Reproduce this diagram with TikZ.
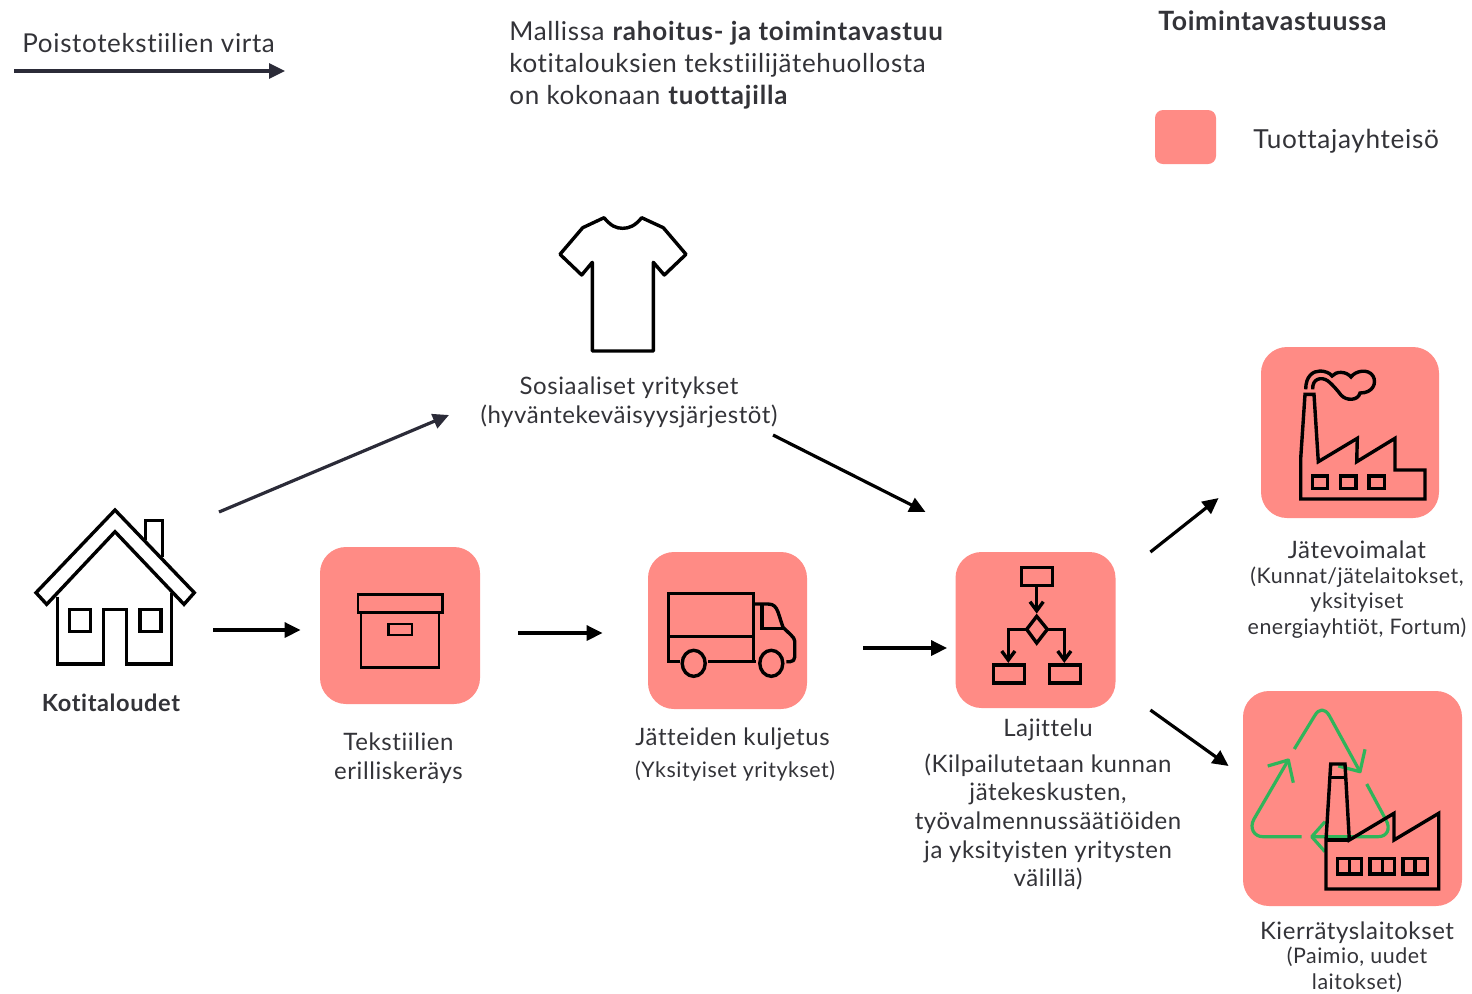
\documentclass[tikz,border=0pt]{standalone}
\usepackage{fontspec}
\setmainfont[LetterSpace=2.5,Ligatures=NoCommon]{Lato}
\usepackage{xcolor}
\usetikzlibrary{arrows.meta,positioning}

\definecolor{tilered}{HTML}{FF8B85}
\definecolor{inkdark}{HTML}{2B2B38}
\definecolor{textdark}{HTML}{333338}
\definecolor{recyclegreen}{HTML}{2FB55A}

\begin{document}
\begin{tikzpicture}[
    x=0.5pt, y=-0.5pt,
    tile/.style={rectangle, fill=tilered, rounded corners=13pt, inner sep=0pt},
    iconspot/.style={rectangle, inner sep=0pt},
    icon/.style={draw=black, line width=1.7pt, miter limit=10},
    thinicon/.style={draw=black, line width=1.2pt},
    cycle/.style={draw=recyclegreen, line width=1.6pt, line join=round},
    flow/.style={-{Triangle[length=8pt,width=7.5pt]}, line width=1.6pt, draw=black},
    darkflow/.style={flow, draw=inkdark},
    caption/.style={align=center, inner sep=0pt, text=textdark, font=\fontsize{12}{14.3}\selectfont},
    subcaption/.style={align=center, inner sep=0pt, text=textdark, font=\fontsize{10.7}{12.8}\selectfont},
    heading/.style={align=left, inner sep=0pt, text=textdark, font=\fontsize{13}{16}\selectfont}
]
    \useasboundingbox (0,0) rectangle (1472,993);

    \node[heading, anchor=west] (virta) at (22,43) {Poistotekstiilien virta};
    \coordinate (virtastart) at (14,71);
    \coordinate (virtaend) at (285,71);
    \draw[darkflow] (virtastart) -- (virtaend);

    \node[heading, anchor=north west] (malli) at (509,21) {Mallissa \textbf{\addfontfeature{LetterSpace=3.2}rahoitus- ja toimintavastuu}\\kotitalouksien tekstiilijätehuollosta\\on kokonaan \textbf{\addfontfeature{LetterSpace=3.2}tuottajilla}};
    \node[heading, anchor=west, font=\fontsize{13.3}{16}\selectfont\bfseries] (vastuussa) at (1158,21) {Toimintavastuussa};
    \node[tile, rounded corners=4pt, minimum width=30.5pt, minimum height=27pt] (swatch) at (1185.5,137) {};
    \node[heading, anchor=west, font=\fontsize{13.1}{16}\selectfont] (yhteiso) at (1253,141) {Tuottajayhteisö};

    \node[iconspot, minimum width=80pt, minimum height=78pt] (koti) at (115,587) {};
    \node[iconspot, minimum width=64pt, minimum height=68pt] (paita) at (623,284) {};
    \node[tile, minimum width=80pt, minimum height=78.5pt] (kerays) at (400,625.5) {};
    \node[tile, minimum width=79.5pt, minimum height=78.5pt] (kuljetus) at (727.5,630.5) {};
    \node[tile, minimum width=80pt, minimum height=78pt] (lajittelu) at (1035.5,630) {};
    \node[tile, minimum width=89pt, minimum height=85.5pt] (voimalat) at (1350,432.5) {};
    \node[tile, minimum width=109.5pt, minimum height=107.5pt] (kierratys) at (1352.5,798.5) {};

    \node[caption, font=\fontsize{11.8}{14.3}\selectfont\bfseries] (kotilabel) at (111,703) {Kotitaloudet};
    \node[caption, below=12pt of paita, xshift=3pt] (paitalabel) {Sosiaaliset yritykset\\(hyväntekeväisyysjärjestöt)};
    \node[caption] (keraylabel) at (398.5,758) {Tekstiilien\\erilliskeräys};
    \node[caption] (kuljetuslabel) at (732.5,739) {Jätteiden kuljetus};
    \node[subcaption] (yksityiset) at (735,771) {(Yksityiset yritykset)};
    \node[caption] (lajittelulabel) at (1048,730) {Lajittelu};
    \node[caption] (kilpailu) at (1048,822) {(Kilpailutetaan kunnan\\jätekeskusten,\\työvalmennussäätiöiden\\ja yksityisten yritysten\\välillä)};
    \node[caption] (voimalalabel) at (1357,550) {Jätevoimalat};
    \node[subcaption] (kunnat) at (1357,602.5) {(Kunnat/jätelaitokset,\\yksityiset\\energiayhtiöt, Fortum)};
    \node[caption] (kierratyslabel) at (1357,933) {Kierrätyslaitokset};
    \node[subcaption] (paimio) at (1357,969.5) {(Paimio, uudet\\laitokset)};

    \draw[darkflow] ([shift={(104,-75)}]koti.center) -- ([shift={(-174,131)}]paita.center);
    \draw[flow] ([shift={(150,151)}]paita.center) -- ([shift={(-110,-118)}]lajittelu.center);
    \draw[flow] ([shift={(18,43)}]koti.east) -- ([shift={(-19,4.5)}]kerays.west);
    \draw[flow] ([shift={(38,7.5)}]kerays.east) -- ([shift={(-45,2.5)}]kuljetus.west);
    \draw[flow] ([shift={(56,17.5)}]kuljetus.east) -- ([shift={(-8,18)}]lajittelu.west);
    \draw[flow] ([shift={(34.5,-78)}]lajittelu.east) -- ([shift={(-42,65.5)}]voimalat.west);
    \draw[flow] ([shift={(34.5,80)}]lajittelu.east) -- ([shift={(-14,-32.5)}]kierratys.west);

    % koti
    \draw[icon] (115,510) -- (194.3,592.7) -- (184,604.3) -- (115,531.7) -- (46.7,604.3) -- (36,592.7) -- cycle;
    \draw[icon] (57.3,596.7) -- (57.3,664) -- (103.3,664) -- (103.3,609.3) -- (126.7,609.3) -- (126.7,664) -- (171.7,664) -- (171.7,592.7);
    \draw[icon] (69.3,609.3) rectangle (90.7,631.7);
    \draw[icon] (140,609.3) rectangle (161,631.7);
    \draw[icon] (145.7,540) -- (145.7,520.7) -- (162.3,520.7) -- (162.3,557.3);

    % paita
    \draw[icon, line join=round] (604,217.7) .. controls (611,226) and (616,228.3) .. (622.7,228.3) .. controls (629,228.3) and (635,226) .. (641.7,217.7) -- (663.3,227.7) -- (686,254.3) -- (664.3,275) -- (653.3,262.3) -- (653.3,351) -- (592.3,351) -- (592.3,262.3) -- (581.7,275) -- (560,254.3) -- (582.7,227.7) -- cycle;

    % laatikko
    \draw[thinicon] (357.7,594.3) rectangle (442.3,612.3);
    \draw[thinicon] (361,612.3) rectangle (439,667.3);
    \draw[thinicon] (388.3,624) rectangle (411.7,635);

    % kuorma-auto
    \draw[icon] (679.7,661.7) -- (668.7,661.7) -- (668.7,593.3) -- (753.7,593.3) -- (753.7,661.7);
    \draw[icon] (668.7,636.7) -- (753.7,636.7);
    \draw[icon] (708,661.7) -- (756.3,661.7);
    \draw[icon] (693.7,663.3) ellipse (11.5 and 13);
    \draw[icon] (771.3,663.3) ellipse (11.5 and 13);
    \draw[icon, line join=round] (786.3,661.7) -- (790,661.7) .. controls (793,661.7) and (794.7,660) .. (794.7,657) -- (794.7,641) .. controls (794.7,639) and (793,637) .. (791,635) -- (783,627.3) -- (778,612) .. controls (776,607) and (774,604) .. (768,604) -- (753.7,604);
    \draw[icon] (762,605) -- (762,628.3) -- (783,628.3);

    % kaavio
    \draw[icon] (1021.7,567.7) rectangle (1052.7,585.7);
    \draw[icon] (1036.7,585.7) -- (1036.7,610.7);
    \draw[icon] (1030,601.7) -- (1036.7,610.7) -- (1043.3,601.7);
    \draw[icon] (1036.7,616.3) -- (1047.3,629.3) -- (1036.7,643) -- (1026.7,629.3) -- cycle;
    \draw[icon] (1026.7,629.3) -- (1008.3,629.3) -- (1008.3,660);
    \draw[icon] (1001.7,651) -- (1008.3,660) -- (1015,651);
    \draw[icon] (1047.3,629.3) -- (1064.3,629.3) -- (1064.3,660);
    \draw[icon] (1057.7,651) -- (1064.3,660) -- (1071,651);
    \draw[icon] (993.3,665) rectangle (1024.3,683);
    \draw[icon] (1049.7,665) rectangle (1080.7,683);

    % voimala
    \draw[icon] (1300.7,499) -- (1300.7,458.3) -- (1305,394.3) -- (1314,394.3) -- (1318.3,461.7) -- (1357.3,438.3) -- (1356.7,461.7) -- (1395,438.3) -- (1395,470) -- (1425,470) -- (1425,499) -- cycle;
    \draw[icon] (1312.3,476) rectangle (1327.7,488.3);
    \draw[icon] (1340.7,476) rectangle (1356,488.3);
    \draw[icon] (1369,476) rectangle (1384.3,488.3);
    \draw[icon] (1305.7,389.3) .. controls (1305.7,376) and (1313,371) .. (1320,371) .. controls (1325,371) and (1330,373) .. (1332,376) .. controls (1336,371) and (1346,371) .. (1351,377) .. controls (1355,371) and (1368,368) .. (1373,376) .. controls (1377,383) and (1373,393) .. (1360,393) .. controls (1358,401) and (1346,401) .. (1341,395) .. controls (1337,390) and (1333,385) .. (1328,381) .. controls (1321,376) and (1312,379) .. (1312.7,389.3);

    % kierratys
    \draw[cycle] (1294.3,749) -- (1314.5,716) .. controls (1319,708) and (1325,708) .. (1329.5,716) -- (1360,771.7);
    \draw[cycle] (1365,749.3) -- (1360,771.7) -- (1338.3,766);
    \draw[cycle] (1366.7,784) -- (1386,820) .. controls (1391,829) and (1387,836.7) .. (1378,836.7) -- (1311.7,836.7);
    \draw[cycle] (1325,821.7) -- (1311.7,836.7) -- (1325,851.7);
    \draw[cycle] (1301.7,836.7) -- (1263,836.7) .. controls (1254,836.7) and (1249,828) .. (1254,819) -- (1288.3,760);
    \draw[cycle] (1267.7,766) -- (1288.3,760) -- (1293.3,782.7);
    \draw[icon] (1326,889) -- (1326,840) -- (1330.7,764) -- (1345,764) -- (1349.3,840) -- (1394,813.3) -- (1394,840) -- (1438.7,813.3) -- (1438.7,889) -- cycle;
    \draw[icon] (1326,840) -- (1349.3,840);
    \draw[icon] (1329.3,777.3) -- (1346.7,777.3);
    \draw[icon] (1337.3,858.3) rectangle (1361.7,874);
    \draw[icon] (1349.3,858.3) -- (1349.3,874);
    \draw[icon] (1370,858.3) rectangle (1394.3,874);
    \draw[icon] (1382.3,858.3) -- (1382.3,874);
    \draw[icon] (1403,858.3) rectangle (1427.3,874);
    \draw[icon] (1415,858.3) -- (1415,874);
\end{tikzpicture}
\end{document}
